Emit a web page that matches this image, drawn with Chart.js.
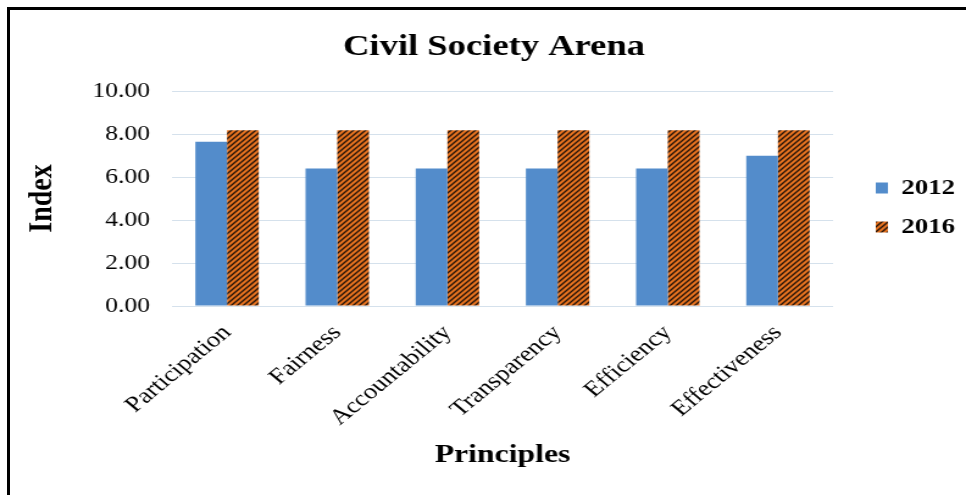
<!DOCTYPE html>
<html>
<head>
<meta charset="utf-8">
<title>Civil Society Arena</title>
<script src="https://cdn.jsdelivr.net/npm/chart.js@4/dist/chart.umd.min.js"></script>
<style>
  html, body { margin: 0; padding: 0; background: #fff; overflow: hidden; }
  #frame {
    position: absolute; left: 7px; top: 7px; width: 980px; height: 500px;
    border-top: 3px solid #000; border-left: 3px solid #000;
  }
</style>
</head>
<body>
<div id="frame"></div>
<!-- drawn on a narrower canvas and widened to the page width -->
<canvas id="chart" width="792" height="495"
        style="position:absolute;left:0;top:0;width:966px;height:495px"></canvas>
<script>
const categories = ['Participation', 'Fairness', 'Accountability', 'Transparency', 'Efficiency', 'Effectiveness'];
const values2012 = [7.64, 6.39, 6.39, 6.39, 6.39, 6.99];
const values2016 = [8.17, 8.17, 8.17, 8.17, 8.17, 8.17];
const yTicks = [0, 2, 4, 6, 8, 10];

// orange fill with dark diagonal hatching
function hatchPattern() {
  const s = 5;
  const c = document.createElement('canvas');
  c.width = s; c.height = s;
  const g = c.getContext('2d');
  g.fillStyle = '#E4711F';
  g.fillRect(0, 0, s, s);
  g.strokeStyle = 'rgba(20,12,8,0.9)';
  g.lineWidth = 1.4;
  g.beginPath();
  g.moveTo(0, s); g.lineTo(s, 0);
  g.moveTo(-1, 1); g.lineTo(1, -1);
  g.moveTo(s - 1, s + 1); g.lineTo(s + 1, s - 1);
  g.stroke();
  return g.createPattern(c, 'repeat');
}

Chart.defaults.font.family = '"Liberation Serif", "Times New Roman", serif';
Chart.defaults.color = '#000';

new Chart(document.getElementById('chart'), {
  type: 'bar',
  data: {
    labels: categories,
    datasets: [
      { label: '2012', data: values2012, backgroundColor: '#538CCB', yAxisID: 'y' },
      { label: '2016', data: values2016, backgroundColor: hatchPattern(), yAxisID: 'y' }
    ]
  },
  options: {
    responsive: false,
    animation: false,
    devicePixelRatio: 1,
    layout: { padding: { left: 18, right: 0, top: 12, bottom: 0 } },
    datasets: { bar: { categoryPercentage: 0.576, barPercentage: 1.0 } },
    plugins: {
      title: {
        display: true,
        text: 'Civil Society Arena',
        font: { size: 30, weight: 'bold' },
        padding: { top: 17, bottom: 26 }
      },
      legend: {
        position: 'right',
        fullSize: false,
        maxWidth: 91,
        title: { display: true, text: ' ', font: { size: 15 }, padding: 0 },
        labels: {
          boxWidth: 10,
          boxHeight: 11,
          padding: 17,
          font: { size: 22, weight: 'bold' }
        }
      },
      tooltip: { enabled: false }
    },
    scales: {
      x: {
        grid: { display: false, drawTicks: false },
        border: { display: false },
        ticks: {
          autoSkip: false,
          minRotation: 45,
          maxRotation: 45,
          padding: 14,
          font: { size: 22 }
        },
        title: {
          display: true,
          text: 'Principles',
          font: { size: 26, weight: 'bold' },
          padding: { top: 0, bottom: 24 }
        },
        afterFit(scale) { scale.height = 189; }
      },
      y: {
        min: 0,
        max: 10,
        grid: { color: '#D5E1EC', lineWidth: 1, drawTicks: false },
        border: { display: false },
        afterBuildTicks(scale) { scale.ticks = yTicks.map(v => ({ value: v })); },
        ticks: {
          padding: 18,
          font: { size: 21 },
          callback: v => Number(v).toFixed(2)
        },
        title: {
          display: true,
          text: 'Index',
          font: { size: 28, weight: 'bold' },
          padding: { top: 0, bottom: 0 }
        },
        afterFit(scale) { scale.width = 123; }
      },
      // empty spacer column between the plot and the legend
      gap: {
        position: 'right',
        display: true,
        grid: { display: false, drawTicks: false },
        border: { display: false },
        ticks: { display: false },
        afterFit(scale) { scale.width = 18; }
      }
    }
  }
});
</script>
</body>
</html>
